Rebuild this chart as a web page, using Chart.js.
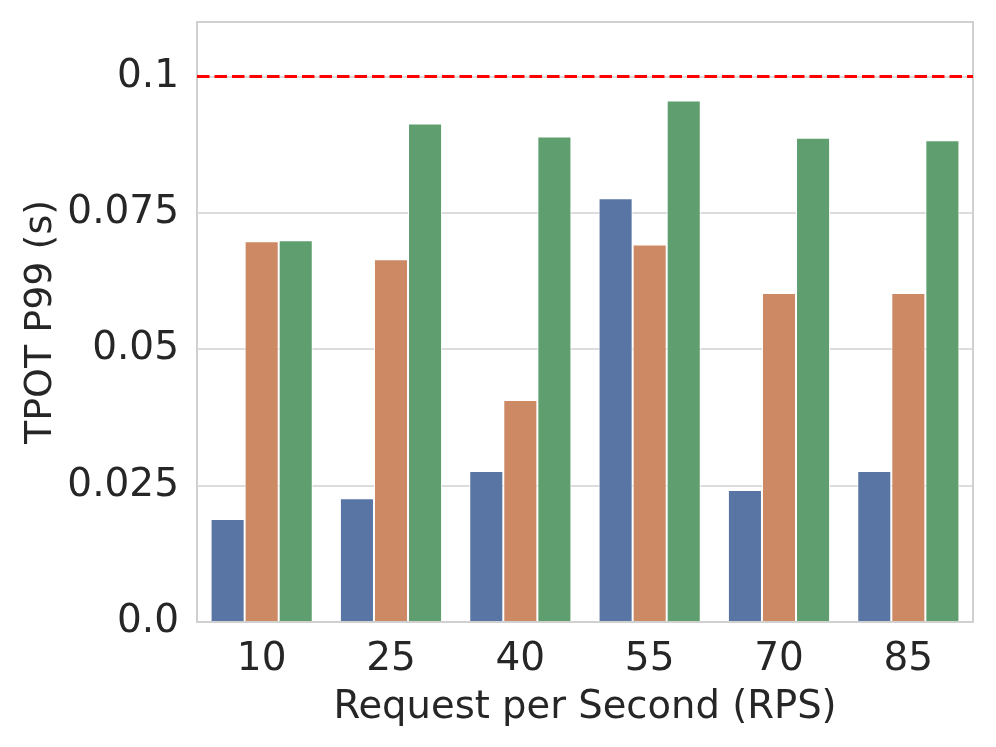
<!DOCTYPE html>
<html>
<head>
<meta charset="utf-8">
<script src="https://cdn.jsdelivr.net/npm/chart.js@4"></script>
<style>
  html, body { margin: 0; padding: 0; background: #fff; }
  #wrap { width: 996px; height: 747px; }
</style>
</head>
<body>
<div id="wrap"><canvas id="tpotChart" width="996" height="747"></canvas></div>
<script>
'use strict';
const rpsLabels = ['10', '25', '40', '55', '70', '85'];
const seriesA = [0.0189, 0.0227, 0.0277, 0.0777, 0.0242, 0.0277];
const seriesB = [0.0698, 0.0665, 0.0407, 0.0692, 0.0603, 0.0603];
const seriesC = [0.0700, 0.0914, 0.0890, 0.0956, 0.0888, 0.0883];
const yTickValues = [0, 0.025, 0.05, 0.075, 0.1];
const yTickLabels = ['0.0', '0.025', '0.05', '0.075', '0.1'];
const sloLimit = 0.1;

const textColor = '#262626';
const font = 'DejaVu Sans';

// frame around the plot area + the dashed limit line
const framePlugin = {
  id: 'frame',
  beforeDatasetsDraw(chart) {
    const { ctx, chartArea: a } = chart;
    ctx.save();
    ctx.strokeStyle = '#d0d0d0';
    ctx.lineWidth = 2;
    ctx.strokeRect(a.left, a.top, a.right - a.left, a.bottom - a.top);
    ctx.restore();
  },
  afterDatasetsDraw(chart) {
    const { ctx, chartArea: a, scales } = chart;
    const y = scales.y.getPixelForValue(sloLimit);
    ctx.save();
    ctx.strokeStyle = '#ff0000';
    ctx.lineWidth = 3;
    ctx.setLineDash([12.5, 5]);
    ctx.beginPath();
    ctx.moveTo(a.left, y);
    ctx.lineTo(a.right, y);
    ctx.stroke();
    ctx.restore();
  }
};

const ctx = document.getElementById('tpotChart').getContext('2d');
new Chart(ctx, {
  type: 'bar',
  data: {
    labels: rpsLabels,
    datasets: [
      { label: 'A', data: seriesA, backgroundColor: '#5975a4' },
      { label: 'B', data: seriesB, backgroundColor: '#cc8963' },
      { label: 'C', data: seriesC, backgroundColor: '#5f9e6e' }
    ].map(d => Object.assign(d, {
      borderColor: '#ffffff',
      borderWidth: 1,
      categoryPercentage: 0.79,
      barPercentage: 1.0
    }))
  },
  options: {
    responsive: false,
    animation: false,
    layout: { padding: { top: 22, right: 23, left: 0, bottom: 0 } },
    plugins: {
      legend: { display: false },
      tooltip: { enabled: false }
    },
    scales: {
      x: {
        grid: { display: false },
        border: { display: false },
        ticks: { color: textColor, font: { family: font, size: 39 }, padding: 6 },
        title: {
          display: true,
          text: 'Request per Second (RPS)',
          color: textColor,
          font: { family: font, size: 38.5 },
          padding: { top: 0, bottom: 16 }
        },
        afterFit(scale) { scale.height = 125; scale.paddingLeft = 0; scale.paddingRight = 0; }
      },
      y: {
        min: 0,
        max: 0.11,
        afterBuildTicks(scale) { scale.ticks = yTickValues.map(v => ({ value: v })); },
        grid: { color: '#dcdcdc', lineWidth: 2, drawTicks: false },
        border: { display: false },
        ticks: {
          color: textColor,
          font: { family: font, size: 39, lineHeight: 1.1 },
          padding: 18,
          callback: (v, i) => yTickLabels[i]
        },
        title: {
          display: true,
          text: 'TPOT P99 (s)',
          color: textColor,
          font: { family: font, size: 38 },
          padding: { bottom: 0, top: 18 }
        },
        afterFit(scale) { scale.width = 197; scale.paddingTop = 0; scale.paddingBottom = 0; }
      }
    }
  },
  plugins: [framePlugin]
});
</script>
</body>
</html>
